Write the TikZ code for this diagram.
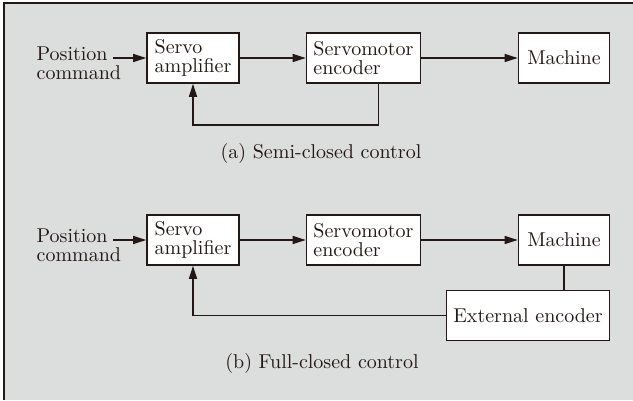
\documentclass[tikz,border=0pt]{standalone}
\usepackage{fontspec}
\setmainfont{lmroman10-regular.otf}
\usepackage{tikz}
\usepackage{xcolor}
\usetikzlibrary{arrows.meta}
\usetikzlibrary{shapes,backgrounds}
\definecolor{ink}{HTML}{231815}
\definecolor{panel}{HTML}{DCDDDD}

\begin{document}
\begin{tikzpicture}[x=1pt,y=-1pt,->,>={Triangle[length=13pt,width=8pt]},
                    line width=1.3pt,color=ink,
                    every node/.style={font=\fontsize{20}{19}\selectfont,text=ink},
                    block node/.style={rectangle,draw,fill=white,line width=1.6pt,
                                       minimum height=50pt,align=left,inner sep=0pt}]

  \useasboundingbox (0,0) rectangle (633,400);
  \fill[panel] (4,3) rectangle (633,400);
  \draw[-,line width=1.5pt] (4,400) -- (4,3) -- (633,3);

  % (a) semi-closed
  \node[block node,minimum width=92pt] (amp1) at (193,58) {Servo\\amplifier};
  \node[block node,minimum width=114pt] (enc1) at (363.5,58) {Servomotor\\encoder};
  \node[block node,minimum width=91pt] (mach1) at (564,58) {Machine};
  \node[align=left,anchor=west,inner sep=0pt] (cmd1) at (36,63) {Position\\command};
  \coordinate (in1) at (113,58);
  \coordinate (fb1) at (378.7,125);
  \node (cap1) at (321,153) {(a) Semi-closed control};

  \path
    (in1) edge (amp1)
    (amp1) edge (enc1)
    (enc1) edge (mach1)
    ;
  \draw (fb1 |- enc1.south) -- (fb1) -| (amp1.south);

  % (b) full-closed
  \node[block node,minimum width=92pt] (amp2) at (193,240) {Servo\\amplifier};
  \node[block node,minimum width=114pt] (enc2) at (363.5,240) {Servomotor\\encoder};
  \node[block node,minimum width=91pt] (mach2) at (564,240) {Machine};
  \node[block node,minimum width=163pt] (ext2) at (528,315.5) {External encoder};
  \node[align=left,anchor=west,inner sep=0pt] (cmd2) at (36,245) {Position\\command};
  \coordinate (in2) at (113,240);
  \node (cap2) at (322,363) {(b) Full-closed control};

  \path
    (in2) edge (amp2)
    (amp2) edge (enc2)
    (enc2) edge (mach2)
    ;
  \draw[-] (mach2.south) -- (mach2.south |- ext2.north);
  \draw (ext2.west) -| (amp2.south);
\end{tikzpicture}
\end{document}
